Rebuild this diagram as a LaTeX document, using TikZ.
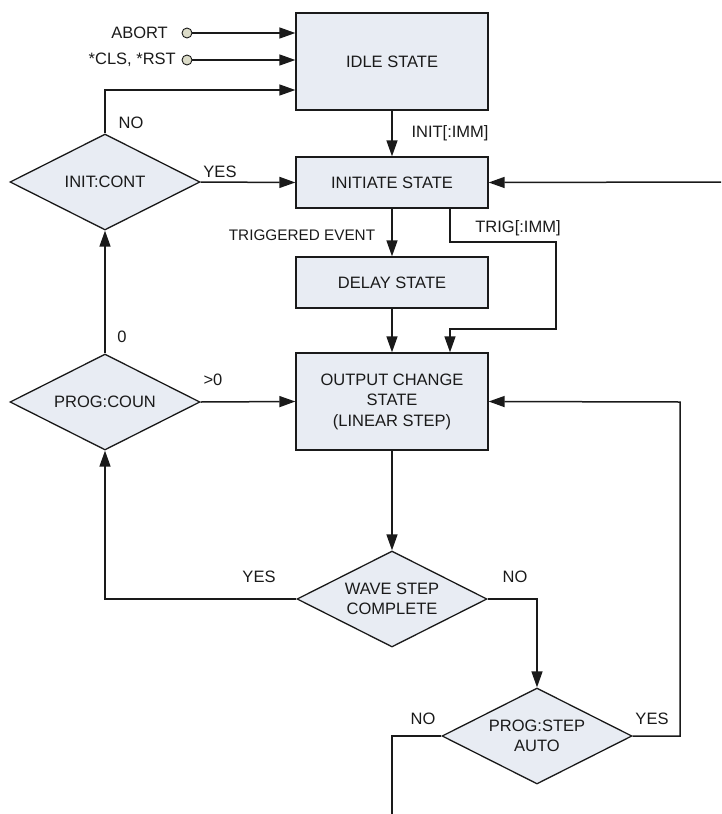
\documentclass[tikz,border=0pt]{standalone}
\usepackage{fontspec}
\setmainfont{Liberation Sans}
\usetikzlibrary{shapes.geometric,arrows.meta}
\definecolor{boxfill}{HTML}{E8ECF3}
\definecolor{circfill}{HTML}{DCDCC8}
\definecolor{ink}{HTML}{1A1A1A}
\begin{document}
\begin{tikzpicture}[x=1pt,y=-1pt,
  font=\fontsize{16.5}{20.5}\selectfont,
  every node/.style={text=ink},
  statebox/.style={draw=ink,line width=1.3pt,fill=boxfill,minimum width=192pt,inner sep=0pt,align=center},
  decision/.style={draw=ink,line width=1.3pt,fill=boxfill,diamond,aspect=2,minimum width=190pt,minimum height=96pt,inner sep=0pt,align=center},
  lbl/.style={inner sep=0pt},
  smalllbl/.style={inner sep=0pt,font=\fontsize{15.3}{18}\selectfont},
  port/.style={draw=ink,circle,line width=0.9pt,fill=circfill,minimum size=10pt,inner sep=0pt},
  conn/.style={draw=ink,line width=1.5pt},
  arr/.style={conn,-{Triangle[length=16pt,width=11pt]}}]
\useasboundingbox (0,0) rectangle (721,814);

% boxes
\node[statebox,minimum height=97pt] (idle) at (392,61.5) {IDLE STATE};
\node[statebox,minimum height=51pt] (init) at (392,182.5) {INITIATE STATE};
\node[statebox,minimum height=51pt] (delay) at (392,282.5) {DELAY STATE};
\node[statebox,minimum height=97pt] (out) at (392,401.5) {OUTPUT CHANGE\\STATE\\(LINEAR STEP)};

% decisions
\node[decision] (cont) at (105,182) {INIT:CONT};
\node[decision] (coun) at (105,402) {PROG:COUN};
\node[decision] (wave) at (392,599) {WAVE STEP\\COMPLETE};
\node[decision] (pstep) at (537,736) {PROG:STEP\\AUTO};

% input ports
\node[port] (abort) at (187,33) {};
\node[port] (cls) at (187,60) {};
\node[lbl,anchor=east] (tabort) at (168,33) {ABORT};
\node[lbl,anchor=east] (tcls) at (176,60) {*CLS, *RST};

% labels
\node[lbl] (lno1) at (131,123) {NO};
\node[lbl] (lyes1) at (220,172) {YES};
\node[lbl] (limm) at (450,133) {INIT[:IMM]};
\node[smalllbl] (ltrev) at (302,235) {TRIGGERED EVENT};
\node[lbl] (ltrig) at (518,228) {TRIG[:IMM]};
\node[lbl] (lzero) at (122,337) {0};
\node[lbl] (lgt) at (213,380) {>0};
\node[lbl] (lyes2) at (259,577) {YES};
\node[lbl] (lno2) at (515,577) {NO};
\node[lbl] (lno3) at (423,719) {NO};
\node[lbl] (lyes3) at (652,719) {YES};

% coordinates
\coordinate (n1) at (105,90);
\coordinate (rin) at (721,182);
\coordinate (t1) at (450,242);
\coordinate (t2) at (556,242);
\coordinate (t3) at (556,329);
\coordinate (t4) at (450,329);
\coordinate (w1) at (105,599);
\coordinate (w2) at (537,599);
\coordinate (p1) at (680,736);
\coordinate (p2) at (680,402);
\coordinate (p3) at (392,736);
\coordinate (pend) at (392,814);

% connectors
\draw[arr] (abort.east) -- (abort.east -| idle.west);
\draw[arr] (cls.east) -- (cls.east -| idle.west);
\draw[arr] (cont.north) -- (n1) -- (n1 -| idle.west);
\draw[arr] (idle.south) -- (init.north);
\draw[arr] (cont.east) -- (init.west);
\draw[arr] (rin) -- (init.east);
\draw[arr] (init.south) -- (delay.north);
\draw[arr] (init.south -| t1) -- (t1) -- (t2) -- (t3) -- (t4) -- (t4 |- out.north);
\draw[arr] (delay.south) -- (out.north);
\draw[arr] (coun.north) -- (cont.south);
\draw[arr] (coun.east) -- (out.west);
\draw[arr] (out.south) -- (wave.north);
\draw[arr] (wave.west) -- (w1) -- (coun.south);
\draw[arr] (wave.east) -- (w2) -- (pstep.north);
\draw[arr] (pstep.east) -- (p1) -- (p2) -- (out.east);
\draw[conn] (pstep.west) -- (p3) -- (pend);
\end{tikzpicture}
\end{document}
